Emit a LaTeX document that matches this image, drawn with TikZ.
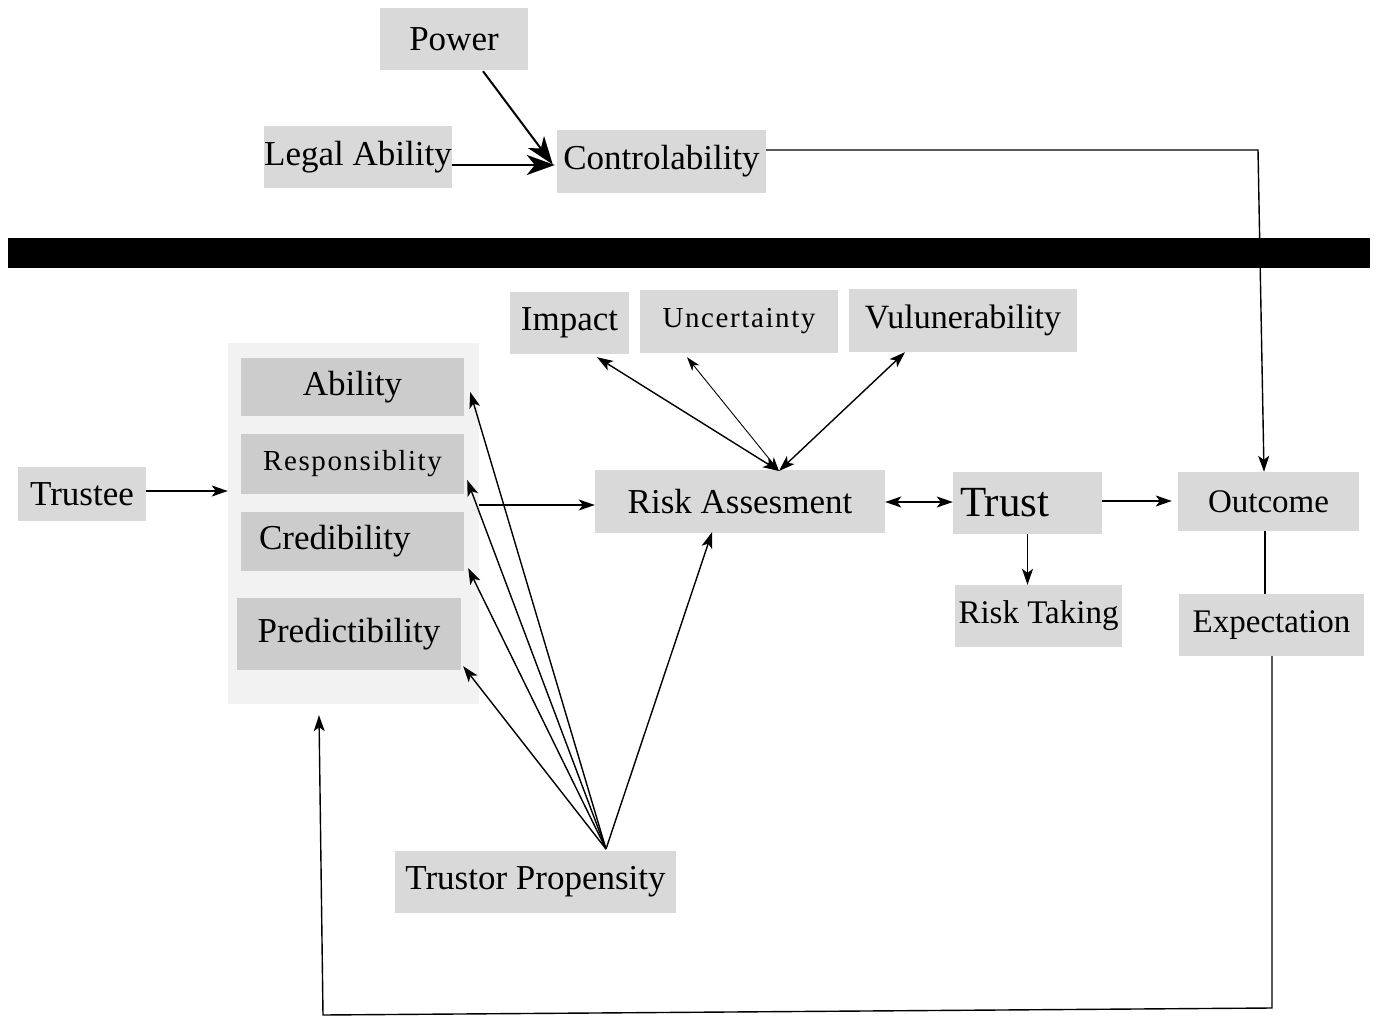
\documentclass[tikz,border=0pt]{standalone}
\usepackage{fontspec}
\setmainfont{Liberation Serif}
\newfontfamily\spacedfont[LetterSpace=5.5]{Liberation Serif}
\usetikzlibrary{arrows.meta,calc}
\definecolor{boxgray}{HTML}{D9D9D9}
\definecolor{innergray}{HTML}{CCCCCC}
\definecolor{grpgray}{HTML}{F2F2F2}
\newcommand\fsz[1]{\fontsize{#1}{#1}\selectfont}
\begin{document}
\begin{tikzpicture}[x=1pt,y=-1pt,
  bx/.style={fill=boxgray, inner sep=0pt, font=\fsz{35}},
  ibx/.style={fill=innergray, inner sep=0pt, font=\fsz{35}},
  tip/.style={Stealth[length=16pt,width=11pt,inset=4pt]},
  arr/.style={-{Stealth[length=16pt,width=11pt,inset=4pt]}, line width=1.4pt},
  dbl/.style={{Stealth[length=16pt,width=11pt,inset=4pt]}-{Stealth[length=16pt,width=11pt,inset=4pt]}, line width=1.4pt},
  dblthin/.style={{Stealth[length=14pt,width=9pt,inset=4pt]}-{Stealth[length=14pt,width=9pt,inset=4pt]}, line width=0.9pt},
  bigarr/.style={-{Stealth[length=28pt,width=20pt,inset=8pt]}, line width=2pt},
  plain/.style={line width=1.4pt}]
\useasboundingbox (0,0) rectangle (1376,1024);

% top part
\node[bx, minimum width=148pt, minimum height=62pt] (pow) at (454,39) {Power};
\node[bx, minimum width=188pt, minimum height=62pt] (legal) at (358,157) {Legal Ability};
\node[bx, minimum width=209pt, minimum height=63pt] (ctrl) at (661.5,161.5) {Controlability};

% separator bar
\fill[black] (8,238) rectangle (1370,268);

% risk factors
\node[bx, minimum width=119pt, minimum height=62pt] (imp) at (569.5,323) {Impact};
\node[bx, minimum width=198pt, minimum height=63pt, font=\fsz{29}\spacedfont] (unc) at (739,321.5) {Uncertainty};
\node[bx, minimum width=228pt, minimum height=63pt, font=\fsz{34}] (vul) at (963,320.5) {Vulunerability};

% trustee attributes group
\node[fill=grpgray, inner sep=0pt, minimum width=251pt, minimum height=361pt] (grp) at (353.5,523.5) {};
\node[ibx, minimum width=223pt, minimum height=58pt] (abil) at (352.5,387) {Ability};
\node[ibx, minimum width=223pt, minimum height=60pt, font=\fsz{29}\spacedfont] (resp) at (352.5,464) {Responsiblity};
\node[ibx, minimum width=223pt, minimum height=59pt, inner xsep=18pt, text width=187pt, align=left] (cred) at (352.5,541.5) {Credibility};
\node[ibx, minimum width=224pt, minimum height=72pt] (pred) at (349,634) {Predictibility};

\node[bx, minimum width=128pt, minimum height=54pt] (tee) at (82,494) {Trustee};
\node[bx, minimum width=290pt, minimum height=63pt] (risk) at (740,501.5) {Risk Assesment};
\node[bx, minimum width=149pt, minimum height=62pt, inner xsep=7pt, text width=135pt, align=left, font=\fsz{43}] (trust) at (1027.5,503) {Trust};
\node[bx, minimum width=181pt, minimum height=59pt, font=\fsz{33}] (outc) at (1268.5,501.5) {Outcome};
\node[bx, minimum width=167pt, minimum height=62pt, font=\fsz{33}] (rtk) at (1038.5,616) {Risk Taking};
\node[bx, minimum width=185pt, minimum height=62pt, font=\fsz{33}] (expn) at (1271.5,625) {Expectation};
\node[bx, minimum width=281pt, minimum height=62pt] (tp) at (535.5,882) {Trustor Propensity};

% top connectors
\draw[bigarr] ($(pow.south)+(29,1)$) -- ($(ctrl.west)+(-4,3)$);
\draw[bigarr] (legal.east |- 0,165) -- ($(ctrl.west)+(-2,3.5)$);
\draw[arr] (ctrl.east |- 0,150) -- (1258,150) -- (outc.north -| 1264,0);

% risk factor connectors
\coordinate (rt) at (779,471);
\draw[dbl] ($(imp.south)+(27.5,3)$) -- (rt);
\draw[dblthin] ($(unc.south)+(-52,4)$) -- (rt);
\draw[dbl] ($(vul.south)+(-58,0)$) -- (rt);

% main flow
\draw[arr] (tee.east |- 0,491) -- (grp.west |- 0,491);
\draw[arr] (grp.east |- 0,505) -- (risk.west |- 0,505);
\draw[dbl] (risk.east |- 0,502) -- (trust.west |- 0,502);
\draw[arr, shorten >=6pt] (trust.east |- 0,501) -- (outc.west |- 0,501);
\draw[arr] (trust.south) -- (rtk.north -| trust.south);
\draw[plain] (outc.south -| 1265,0) -- (expn.north -| 1265,0);

% trustor propensity fan
\coordinate (tpo) at (606,849);
\draw[arr] (tpo) -- ($(abil.east)+(6,5)$);
\draw[arr] (tpo) -- ($(resp.east)+(3,16)$);
\draw[arr] (tpo) -- ($(cred.south east)+(4,-3)$);
\draw[arr] (tpo) -- ($(pred.south east)+(2,-4)$);
\draw[arr] (tpo) -- ($(risk.south)+(-28,-1)$);

% feedback loop
\draw[arr] (expn.south -| 1272,0) -- (1272,1008) -- (323,1015) -- ($(grp.south -| 319,0)+(0,11)$);
\end{tikzpicture}
\end{document}
